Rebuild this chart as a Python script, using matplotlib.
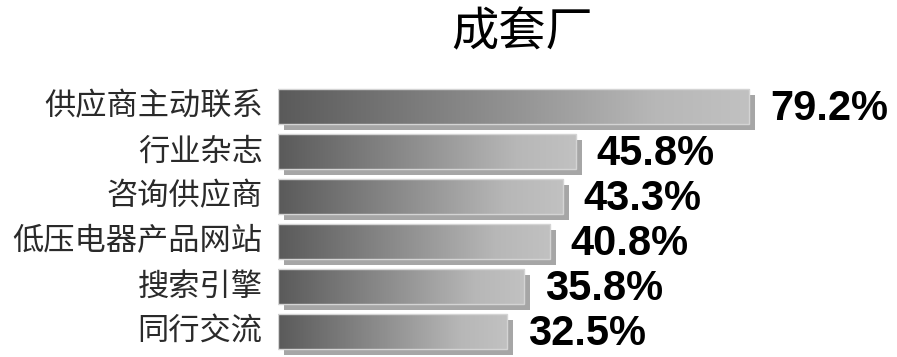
import matplotlib
matplotlib.use("Agg")
import matplotlib.pyplot as plt
import matplotlib.patheffects as pe
from matplotlib.colors import LinearSegmentedColormap
import numpy as np

# survey results: how switchgear makers learn about suppliers
categories = ["供应商主动联系", "行业杂志", "咨询供应商", "低压电器产品网站", "搜索引擎", "同行交流"]
shares = [79.2, 45.8, 43.3, 40.8, 35.8, 32.5]
title = "成套厂"

plt.rcParams['font.family'] = ['Noto Sans CJK SC', 'DejaVu Sans']

W, H = 897, 357
fig = plt.figure(figsize=(W / 100, H / 100), dpi=100)
fig.patch.set_facecolor("white")

# axes laid out in pixels: bars start at x=278, rows 45px apart
base = -11.6
px_per_unit = 5.19
ax = fig.add_axes([278 / W, 0, (W - 278) / W, 282 / H])
ax.axis("off")

grad = LinearSegmentedColormap.from_list(
    "bargrad", [(0, "#5a5a5a"), (0.5, "#939393"), (0.8, "#b7b7b7"), (1, "#c1c1c1")])
ramp = np.linspace(0, 1, 256).reshape(1, -1)

ypos = np.arange(len(categories))
bar_h = 0.78
shadow = [pe.SimplePatchShadow(offset=(4.3, -4.3), shadow_rgbFace="#a6a6a6", alpha=1.0),
          pe.Normal()]
bars = ax.barh(ypos, [v - base for v in shares], left=base, height=bar_h,
               color="#bebebe", edgecolor="none", path_effects=shadow, zorder=1)

for b in bars:
    x0, y0 = b.get_x(), b.get_y()
    im = ax.imshow(ramp, cmap=grad, aspect="auto", interpolation="bilinear",
                   extent=(x0, x0 + b.get_width(), y0 + b.get_height(), y0), zorder=2)
    im.set_clip_path(b)

# thin light outline on top of the gradient
ax.barh(ypos, [v - base for v in shares], left=base, height=bar_h,
        color="none", edgecolor="#d4d4d4", linewidth=1.0, zorder=3)

ax.set_xlim(base, base + (W - 278) / px_per_unit)
ax.set_ylim(5.567, -0.7)

# category names to the left of the bars
for y, name in zip(ypos, categories):
    ax.annotate(name, xy=(base, y), xytext=(-11, 0), textcoords="offset points",
                ha="right", va="center", fontsize=22.5, color="#2a2a2a")

# value labels, right of each bar and a little lower
for y, v in zip(ypos, shares):
    ax.annotate(f"{v:.1f}%", xy=(v, y), xytext=(15, -1.5), textcoords="offset points",
                ha="left", va="center", fontsize=30, fontweight="bold",
                family="Liberation Sans", color="black")

fig.text(522 / W, 1 - 33 / H, title, ha="center", va="center", fontsize=34, color="black")

fig.savefig("out.png", dpi=100)
